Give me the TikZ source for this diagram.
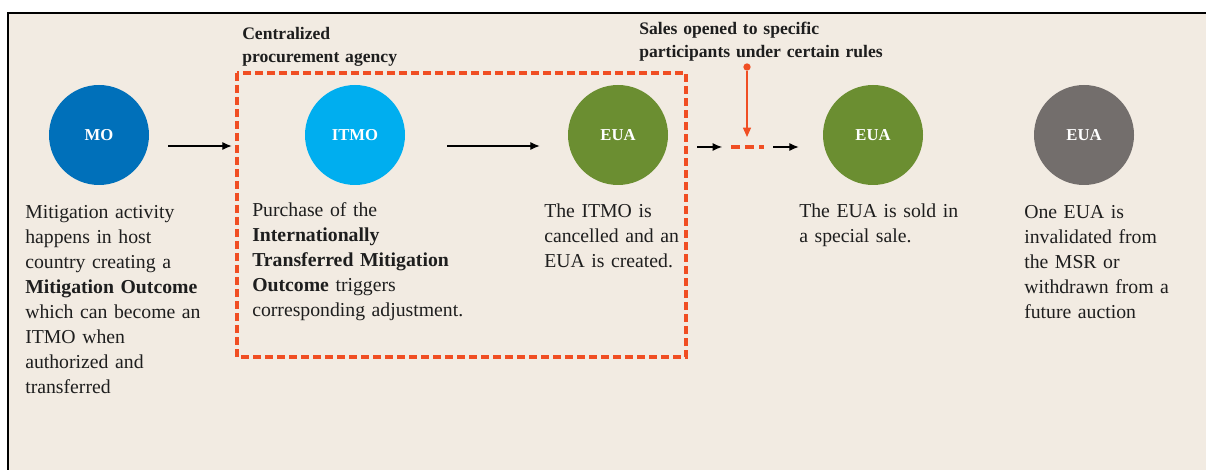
\documentclass[tikz,border=0pt]{standalone}
\usepackage{fontspec}
\setmainfont{Liberation Serif}
\usetikzlibrary{positioning,arrows.meta}
\definecolor{paper}{RGB}{242,235,226}
\definecolor{moblue}{RGB}{0,112,186}
\definecolor{itmoblue}{RGB}{0,174,239}
\definecolor{euagreen}{RGB}{107,142,49}
\definecolor{euagrey}{RGB}{115,110,108}
\definecolor{agency}{RGB}{240,78,35}
\definecolor{ink}{RGB}{30,30,30}
\tikzset {
    style circle/.style={
        circle, % Set the shape as a circle
        minimum size=75pt,
        inner sep=0pt,
        text=white,
        font=\fontsize{12.5}{14}\selectfont\bfseries,
    },
    style note/.style={
        anchor=base west,
        inner sep=0pt,
        text width=200pt,
        align=left,
        text=ink,
        font=\fontsize{14.8}{18.75}\selectfont,
    },
    style head/.style={
        anchor=base west,
        inner sep=0pt,
        text width=230pt,
        align=left,
        text=ink,
        font=\fontsize{13.2}{16.7}\selectfont\bfseries,
    },
    style arrow/.style={
        draw=black,
        line width=0.8pt,
        -{Latex[length=7pt,width=6pt]},
    },
    style box/.style={
        draw=agency,
        line width=2.3pt,
        dash pattern=on 6pt off 3pt,
    },
}

\begin{document}
\begin{tikzpicture}
[x=0.75pt, y=-0.75pt]
\useasboundingbox (0,0) rectangle (1206,470);
\fill[paper] (8,13) rectangle (1206,470);
\draw[line width=1.5pt] (8,470) -- (8,13) -- (1206,13);

\node[style circle, fill=moblue] at (99,135) (mo) {MO};
\node[style circle, fill=itmoblue] at (355,135) (itmo) {ITMO};
\node[style circle, fill=euagreen] at (618,135) (eua) {EUA};
\node[style circle, fill=euagreen] at (873,135) (euasold) {EUA};
\node[style circle, fill=euagrey] at (1084,135) (euagone) {EUA};

\node[style note] at (25,219) (motext) {Mitigation activity\\ happens in host\\ country creating a\\ \textbf{Mitigation Outcome}\\ which can become an\\ ITMO when\\ authorized and\\ transferred};
\node[style note] at (252,217) (itmotext) {Purchase of the\\ \textbf{Internationally}\\ \textbf{Transferred Mitigation}\\ \textbf{Outcome} triggers\\ corresponding adjustment.};
\node[style note] at (544,218) (euatext) {The ITMO is\\ cancelled and an\\ EUA is created.};
\node[style note] at (799,218) (soldtext) {The EUA is sold in\\ a special sale.};
\node[style note] at (1024,219) (gonetext) {One EUA is\\ invalidated from\\ the MSR or\\ withdrawn from a\\ future auction};

\node[style head] at (242,40) (agencyhead) {Centralized\\ procurement agency};
\node[style head] at (639,35) (salehead) {Sales opened to specific\\ participants under certain rules};

\draw[style box] (237,73) rectangle (686,357);

\coordinate (sale) at (747,147);
\node[circle, fill=agency, inner sep=0pt, minimum size=5.5pt] at (747,67) (saledot) {};

\draw[style arrow] ([shift={(19,11)}]mo.east) -- ([shift={(-73,11)}]itmo.west);
\draw[style arrow] ([shift={(42,11)}]itmo.east) -- ([shift={(-28,11)}]eua.west);
\draw[style arrow] ([shift={(29,12)}]eua.east) -- ([shift={(-25,0)}]sale);
\draw[draw=agency, line width=2.3pt, dash pattern=on 7pt off 3.5pt] ([shift={(-16,0)}]sale) -- ([shift={(17,0)}]sale);
\draw[style arrow] ([shift={(26,0)}]sale) -- ([shift={(-24,12)}]euasold.west);
\draw[draw=agency, line width=0.9pt, -{Triangle[length=7pt,width=6pt]}] (saledot) -- ([shift={(0,-10)}]sale);
\end{tikzpicture}
\end{document}
